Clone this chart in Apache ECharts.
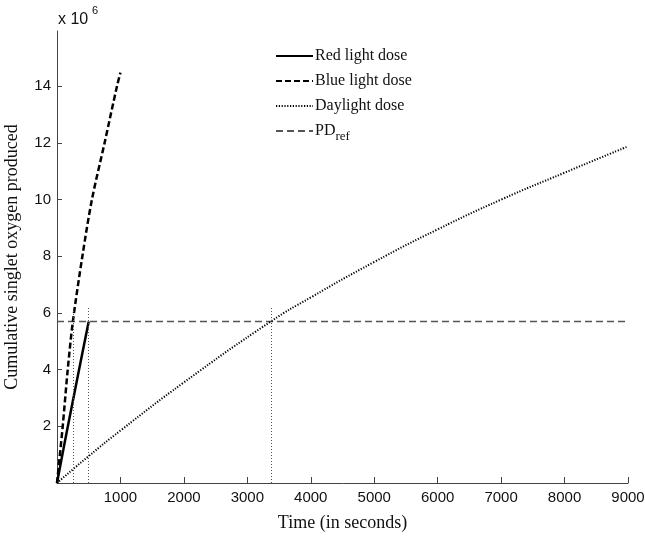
<!DOCTYPE html>
<html>
<head>
<meta charset="utf-8">
<script src="https://cdn.jsdelivr.net/npm/echarts@6/dist/echarts.min.js"></script>
<style>
  html, body { margin: 0; padding: 0; background: #fff; }
  #chart { width: 645px; height: 539px; }
</style>
</head>
<body>
<div id="chart"></div>
<script>
// values, doses in units of 10^6
const redTime = [0, 100, 200, 300, 400, 500];
const redDose = [0, 1.18, 2.33, 3.46, 4.59, 5.7];

const blueTime = [0, 90, 169, 250, 400, 550, 750, 945, 1000];
const blueDose = [0, 2.0, 4.0, 5.7, 8.0, 10.0, 12.0, 14.0, 14.48];

const dayTime = [0, 500, 1000, 2000, 3370, 4000, 5000, 6000, 7000, 8000, 9000];
const dayDose = [0, 0.95, 1.85, 3.55, 5.7, 6.55, 7.8, 8.95, 10.0, 10.95, 11.88];

const refTime = [0, 9000];
const refDose = [5.7, 5.7];

// where each dose reaches PD_ref
const guideTime = [250, 500, 3370];
const guideTop = 6.2;

const xTicks = [1000, 2000, 3000, 4000, 5000, 6000, 7000, 8000, 9000];
const yTicks = [2, 4, 6, 8, 10, 12, 14];

const names = ['Red light dose', 'Blue light dose', 'Daylight dose', 'PD_ref'];

const chart = echarts.init(document.getElementById('chart'));

function pairs(xs, ys) {
  return xs.map((x, i) => [x, ys[i]]);
}

const serif = 'Liberation Serif';
const sans = 'Liberation Sans';

const option = {
  animation: false,
  backgroundColor: '#fff',
  title: [
    {
      text: 'x 10',
      left: 53,
      top: 7,
      textStyle: { fontFamily: sans, fontSize: 16, fontWeight: 'normal', color: '#111' }
    },
    {
      text: '6',
      left: 87,
      top: 0,
      textStyle: { fontFamily: sans, fontSize: 11, fontWeight: 'normal', color: '#111' }
    }
  ],
  legend: {
    data: names,
    orient: 'vertical',
    left: 270,
    top: 43,
    itemWidth: 37,
    itemHeight: 14,
    itemGap: 9,
    itemStyle: { color: 'transparent', borderColor: 'transparent', borderWidth: 0 },
    formatter: function (name) {
      if (name === 'PD_ref') return '{a|PD}{b|ref}';
      return name;
    },
    textStyle: {
      fontFamily: serif, fontSize: 16, color: '#111', padding: [0, 0, 0, -3],
      rich: {
        a: { fontFamily: serif, fontSize: 16, color: '#111' },
        b: { fontFamily: serif, fontSize: 13, color: '#111', padding: [11, 0, 0, 0] }
      }
    }
  },
  grid: { left: 57, right: 17, top: 31, bottom: 56, containLabel: false, outerBoundsMode: 'none' },
  xAxis: {
    type: 'value',
    min: 0,
    max: 9000,
    name: 'Time (in seconds)',
    nameLocation: 'middle',
    nameGap: 31,
    nameTextStyle: { fontFamily: serif, fontSize: 18, color: '#111' },
    splitLine: { show: false },
    axisLine: { lineStyle: { color: '#444', width: 1 } },
    axisTick: { inside: true, length: 6, lineStyle: { color: '#444' }, customValues: xTicks },
    axisLabel: {
      fontFamily: sans, fontSize: 15, color: '#111', margin: 7, customValues: xTicks,
      formatter: (v) => String(v)
    }
  },
  yAxis: {
    type: 'value',
    min: 0,
    max: 15.95,
    name: 'Cumulative singlet oxygen produced',
    nameLocation: 'middle',
    nameGap: 36,
    nameTextStyle: { fontFamily: serif, fontSize: 18, color: '#111' },
    splitLine: { show: false },
    axisLine: { show: true, lineStyle: { color: '#444', width: 1 } },
    axisTick: { show: true, inside: true, length: 5, lineStyle: { color: '#444' }, customValues: yTicks },
    axisLabel: { fontFamily: sans, fontSize: 15, color: '#111', margin: 6, customValues: yTicks }
  },
  series: [
    {
      name: names[0],
      type: 'line',
      data: pairs(redTime, redDose),
      symbol: 'none',
      smooth: true,
      lineStyle: { color: '#000', width: 2.5, type: 'solid' },
      itemStyle: { color: '#000' },
      z: 4
    },
    {
      name: names[1],
      type: 'line',
      data: pairs(blueTime, blueDose),
      symbol: 'none',
      smooth: 0.3,
      lineStyle: { color: '#000', width: 2.5, type: [6, 3] },
      itemStyle: { color: '#000' },
      z: 4
    },
    {
      name: names[2],
      type: 'line',
      data: pairs(dayTime, dayDose),
      symbol: 'none',
      smooth: true,
      lineStyle: { color: '#000', width: 2, type: [1.2, 1.6] },
      itemStyle: { color: '#000' },
      z: 3
    },
    {
      name: names[3],
      type: 'line',
      data: pairs(refTime, refDose),
      symbol: 'none',
      lineStyle: { color: '#555', width: 1.5, type: [7, 4] },
      itemStyle: { color: '#555' },
      z: 2,
      markLine: {
        silent: true,
        symbol: 'none',
        label: { show: false },
        lineStyle: { color: '#555', width: 1, type: [1, 2] },
        data: guideTime.map((t) => [{ coord: [t, 0] }, { coord: [t, guideTop] }])
      }
    }
  ]
};

chart.setOption(option);
</script>
</body>
</html>
